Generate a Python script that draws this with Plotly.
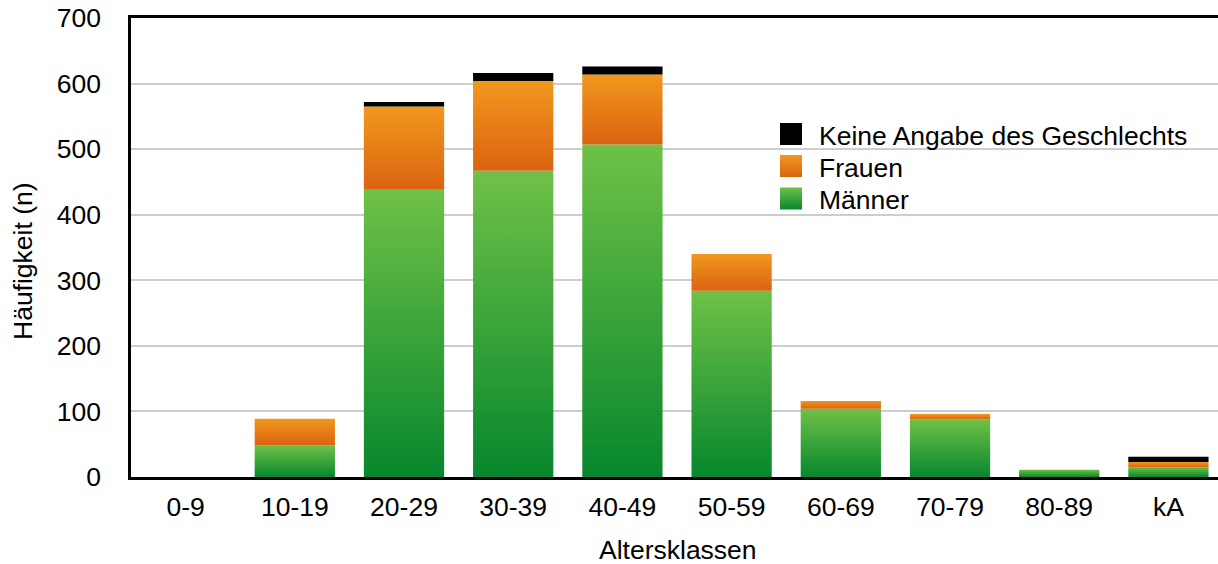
import plotly.graph_objects as go

# Age classes and counts per gender
categories = ["0-9", "10-19", "20-29", "30-39", "40-49", "50-59", "60-69", "70-79", "80-89", "kA"]
maenner = [0, 48, 438, 467, 507, 284, 104, 88, 11, 15]
frauen = [0, 41, 127, 137, 107, 56, 12, 8, 0, 8]
keine_angabe = [0, 0, 7, 12, 12, 0, 0, 0, 0, 8]

y_ticks = [0, 100, 200, 300, 400, 500, 600, 700]

GREEN = [[0, "#07872d"], [1, "#6fc147"]]
ORANGE = [[0, "#db6311"], [1, "#f1981d"]]
BLACK = "#000000"

# stacking order bottom -> top
series = [
    ("Männer", maenner, GREEN),
    ("Frauen", frauen, ORANGE),
    ("Keine Angabe des Geschlechts", keine_angabe, BLACK),
]

BAR_WIDTH = 0.735
half = BAR_WIDTH / 2
FONT_SIZE = 26.5


def fill_style(style):
    if isinstance(style, str):
        return dict(fillcolor=style)
    return dict(fillcolor=style[-1][1],
                fillgradient=dict(type="vertical", colorscale=style))


fig = go.Figure()

# each stacked segment is its own filled shape so the gradient spans that segment
for i, cat in enumerate(categories):
    base = 0
    for name, values, style in series:
        v = values[i]
        if v <= 0:
            continue
        top = base + v
        fig.add_trace(go.Scatter(
            x=[i - half, i + half, i + half, i - half, i - half],
            y=[base, base, top, top, base],
            mode="none", fill="toself", hoveron="fills",
            name=name, text=f"{cat}: {name} {v}", hoverinfo="text",
            showlegend=False, **fill_style(style),
        ))
        base = top

# legend: swatches on an overlay axis spanning the plot area (0..1)
L, R, T, B = 131, 1218, 18, 477
W, H = R - L, B - T


def px_x(px):
    return (px - L) / W


def px_y(px):
    return (B - px) / H


legend_rows = [
    ("Keine Angabe des Geschlechts", BLACK, 134),
    ("Frauen", ORANGE, 166),
    ("Männer", GREEN, 198.5),
]
for name, style, cy in legend_rows:
    x0, x1 = px_x(780), px_x(802)
    y0, y1 = px_y(cy + 11), px_y(cy - 11)
    fig.add_trace(go.Scatter(
        x=[x0, x1, x1, x0, x0], y=[y0, y0, y1, y1, y0],
        xaxis="x2", yaxis="y2", mode="none", fill="toself",
        hoverinfo="skip", showlegend=False, **fill_style(style),
    ))
    fig.add_annotation(
        x=px_x(817), y=px_y(cy + 1.5), xref="paper", yref="paper",
        text=name, showarrow=False, xanchor="left", yanchor="middle",
        font=dict(size=FONT_SIZE, color="#000000"),
    )

FONT = "Liberation Sans, Arial, Helvetica, sans-serif"

fig.add_annotation(
    x=px_x(23), y=px_y(261), xref="paper", yref="paper",
    text="Häufigkeit (n)", textangle=-90, showarrow=False,
    xanchor="center", yanchor="middle", font=dict(size=FONT_SIZE),
)
fig.add_annotation(
    x=px_x(678), y=px_y(550), xref="paper", yref="paper",
    text="Altersklassen", showarrow=False,
    xanchor="center", yanchor="middle", font=dict(size=FONT_SIZE),
)

fig.update_layout(
    width=1218, height=564,
    margin=dict(l=L, r=0, t=T, b=564 - B, pad=0),
    paper_bgcolor="white", plot_bgcolor="white",
    font=dict(family=FONT, size=FONT_SIZE, color="#000000"),
    showlegend=False,
    xaxis=dict(
        range=[-0.5, 9.454], tickmode="array",
        tickvals=list(range(len(categories))), ticktext=categories,
        showgrid=False, zeroline=False,
        showline=True, linecolor="#000000", linewidth=2.5, mirror=True,
        ticks="", ticklabelstandoff=4, fixedrange=True,
        tickfont=dict(size=FONT_SIZE),
    ),
    yaxis=dict(
        range=[0, 700], tickmode="array", tickvals=y_ticks,
        showgrid=True, gridcolor="#cdcdcd", gridwidth=1.5,
        zeroline=False, showline=True, linecolor="#000000", linewidth=2.5,
        ticks="", ticklabelstandoff=22, fixedrange=True,
        tickfont=dict(size=FONT_SIZE),
    ),
    xaxis2=dict(domain=[0, 1], range=[0, 1], overlaying="x", anchor="y2",
                visible=False, fixedrange=True),
    yaxis2=dict(domain=[0, 1], range=[0, 1], overlaying="y", anchor="x2",
                visible=False, fixedrange=True),
)

fig.write_html("out.html")
